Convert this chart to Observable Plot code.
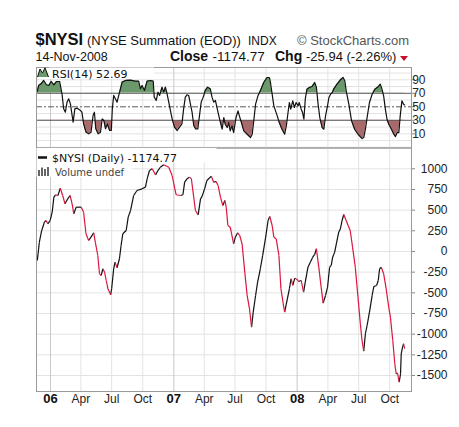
<!DOCTYPE html>
<html><head><meta charset="utf-8">
<script src="https://cdn.jsdelivr.net/npm/d3@7"></script>
<script src="https://cdn.jsdelivr.net/npm/@observablehq/plot@0.6"></script>
<style>
html,body{margin:0;padding:0;background:#fff;}
#wrap{position:relative;width:459px;height:427px;overflow:hidden;background:#fff;}
#wrap > svg{position:absolute;left:0;}
</style></head><body><div id="wrap"></div>
<script>
// ---- data: $NYSI daily (sampled at turning points) ----
const dates = ["2005-11-23","2005-11-29","2005-12-06","2005-12-14","2005-12-19","2005-12-24","2005-12-31","2006-01-06","2006-01-11","2006-01-16","2006-01-23","2006-01-30","2006-02-06","2006-02-13","2006-02-21","2006-02-28","2006-03-06","2006-03-11","2006-03-18","2006-04-02","2006-04-09","2006-04-16","2006-04-24","2006-05-01","2006-05-09","2006-05-14","2006-05-21","2006-05-26","2006-05-31","2006-06-05","2006-06-10","2006-06-15","2006-06-20","2006-06-28","2006-07-01","2006-07-07","2006-07-11","2006-07-17","2006-07-24","2006-07-29","2006-08-03","2006-08-13","2006-08-19","2006-08-26","2006-09-04","2006-09-14","2006-09-29","2006-10-09","2006-10-14","2006-10-21","2006-10-29","2006-11-08","2006-11-15","2006-11-22","2006-12-02","2006-12-17","2006-12-27","2007-01-04","2007-01-08","2007-01-21","2007-01-28","2007-02-02","2007-02-09","2007-02-16","2007-02-22","2007-02-27","2007-03-06","2007-03-14","2007-03-21","2007-03-26","2007-04-02","2007-04-09","2007-04-22","2007-04-29","2007-05-06","2007-05-12","2007-05-19","2007-05-26","2007-06-01","2007-06-05","2007-06-10","2007-06-17","2007-06-27","2007-07-02","2007-07-09","2007-07-15","2007-07-22","2007-07-30","2007-08-06","2007-08-13","2007-08-19","2007-08-24","2007-08-31","2007-09-06","2007-09-14","2007-09-21","2007-09-29","2007-10-07","2007-10-12","2007-10-19","2007-10-24","2007-10-31","2007-11-08","2007-11-14","2007-11-20","2007-11-25","2007-12-03","2007-12-09","2007-12-14","2007-12-19","2007-12-25","2008-01-01","2008-01-05","2008-01-13","2008-01-20","2008-01-25","2008-02-02","2008-02-09","2008-02-16","2008-02-22","2008-02-27","2008-03-05","2008-03-12","2008-03-18","2008-03-25","2008-03-31","2008-04-06","2008-04-11","2008-04-15","2008-04-21","2008-04-26","2008-05-03","2008-05-08","2008-05-13","2008-05-18","2008-05-25","2008-05-31","2008-06-06","2008-06-13","2008-06-21","2008-06-29","2008-07-06","2008-07-11","2008-07-16","2008-07-21","2008-07-26","2008-08-02","2008-08-10","2008-08-15","2008-08-23","2008-08-28","2008-09-01","2008-09-06","2008-09-13","2008-09-20","2008-09-28","2008-10-03","2008-10-10","2008-10-16","2008-10-20","2008-10-24","2008-10-29","2008-11-02","2008-11-04","2008-11-08","2008-11-11","2008-11-14"];
const nysi = [-109,112,254,355,375,335,375,475,657,685,677,765,677,577,637,677,577,456,536,536,475,214,133,173,226,105,-48,-270,-290,-209,-250,-351,-451,-524,-451,-209,-129,-197,-88,73,214,254,415,496,677,738,758,778,879,979,1000,927,979,1019,1050,1019,919,758,686,677,686,838,879,899,879,717,496,443,637,669,758,859,911,838,847,798,657,556,617,536,314,294,93,173,226,193,93,-250,-532,-693,-915,-733,-532,-371,-209,-48,153,375,423,314,173,153,-48,-451,-613,-733,-572,-451,-330,-411,-323,-338,-363,-351,-492,-371,-190,-129,-69,-36,33,-190,-431,-625,-532,-431,-190,-169,-69,-8,93,233,274,375,447,375,314,254,52,-190,-552,-874,-1076,-1205,-995,-895,-733,-532,-423,-411,-351,-209,-190,-270,-439,-673,-794,-1076,-1358,-1479,-1471,-1580,-1479,-1237,-1157,-1116,-1174.77];

// ---- data: RSI(14) ----
const rsiDates = ["2005-11-23","2005-11-27","2005-12-04","2005-12-12","2005-12-20","2005-12-27","2006-01-03","2006-01-11","2006-01-19","2006-01-28","2006-02-04","2006-02-09","2006-02-14","2006-02-19","2006-02-24","2006-03-01","2006-03-06","2006-03-09","2006-03-14","2006-03-21","2006-03-31","2006-04-04","2006-04-09","2006-04-16","2006-04-24","2006-05-01","2006-05-07","2006-05-11","2006-05-15","2006-05-22","2006-05-29","2006-06-03","2006-06-08","2006-06-13","2006-06-18","2006-06-25","2006-06-30","2006-07-03","2006-07-07","2006-07-12","2006-07-17","2006-07-22","2006-07-27","2006-08-01","2006-08-11","2006-08-26","2006-09-09","2006-09-19","2006-09-24","2006-09-29","2006-10-06","2006-10-14","2006-10-24","2006-11-01","2006-11-04","2006-11-10","2006-11-15","2006-11-20","2006-11-27","2006-12-02","2006-12-07","2006-12-12","2006-12-17","2006-12-22","2006-12-27","2007-01-03","2007-01-11","2007-01-18","2007-01-25","2007-01-30","2007-02-04","2007-02-09","2007-02-14","2007-02-19","2007-02-24","2007-03-01","2007-03-06","2007-03-13","2007-03-18","2007-03-23","2007-03-29","2007-04-04","2007-04-11","2007-04-19","2007-04-24","2007-04-29","2007-05-04","2007-05-12","2007-05-19","2007-05-24","2007-05-29","2007-06-02","2007-06-08","2007-06-12","2007-06-17","2007-06-22","2007-06-27","2007-07-04","2007-07-10","2007-07-14","2007-07-20","2007-07-27","2007-08-06","2007-08-16","2007-08-21","2007-08-25","2007-08-31","2007-09-07","2007-09-14","2007-09-24","2007-10-04","2007-10-11","2007-10-14","2007-10-19","2007-10-24","2007-11-03","2007-11-09","2007-11-17","2007-11-25","2007-11-30","2007-12-05","2007-12-09","2007-12-13","2007-12-19","2007-12-24","2007-12-29","2008-01-04","2008-01-07","2008-01-13","2008-01-17","2008-01-21","2008-01-25","2008-01-30","2008-02-06","2008-02-14","2008-02-22","2008-02-27","2008-03-03","2008-03-08","2008-03-15","2008-03-20","2008-03-25","2008-03-30","2008-04-04","2008-04-09","2008-04-14","2008-04-18","2008-04-28","2008-05-08","2008-05-16","2008-05-21","2008-05-26","2008-06-02","2008-06-10","2008-06-19","2008-06-29","2008-07-11","2008-07-16","2008-07-21","2008-07-26","2008-08-02","2008-08-10","2008-08-18","2008-08-25","2008-08-30","2008-09-03","2008-09-08","2008-09-13","2008-09-18","2008-09-23","2008-09-28","2008-10-06","2008-10-13","2008-10-18","2008-10-23","2008-10-28","2008-11-01","2008-11-06","2008-11-11","2008-11-14"];
const rsi = [72.7,81.6,84,89,82.6,81.6,87.5,82.6,87.5,87.5,69.3,47,42,56.9,61.8,54.4,37.1,27.3,47,48,44.5,42,24.8,12.4,10,12.4,37.1,42,17.4,10,12.4,32.2,29.7,17.4,24.8,14.9,14.9,47,66.8,61.8,56.9,66.8,76.7,86.5,89,89.5,88,88,76.7,81.6,74.2,88,89,88,64.3,59.4,71.7,66.8,79.1,71.7,79.1,69.3,56.9,44.5,32.2,19.9,14.9,19.9,24.8,47,64.3,67.8,66.8,54.4,42,22.3,17.4,17.4,37.1,56.9,64.3,74.2,79.1,76.7,64.3,56.9,59.4,41.5,26.7,16.8,34.1,24.2,19.3,26.7,14.4,21.8,11.9,34.1,44,36.6,26.7,14.4,9.4,4.5,9.4,26.7,53.9,66.2,73.6,86,93.4,93.4,86,68.7,51.4,36.6,26.7,16.8,9.4,21.8,41.5,56.4,46.5,58.8,49,56.4,51.4,56.4,46.5,41.5,31.6,61.3,76.1,78.5,80,86,78.5,53.9,34.1,19.3,16.8,36.6,49,63.8,68.7,71.2,76.1,83.5,90,93.4,88.5,71.2,53.9,29.2,16.8,9.4,3,4.5,16.8,34.1,56.4,68.7,76.1,78.5,81,83.5,76.1,66.2,46.5,31.6,24.2,16.8,9.4,5.9,11.9,11.9,36.6,58.8,53.9,52.69];

// ---- axes ----
const monthTicks = ["2006-01-01","2006-04-01","2006-07-01","2006-10-01","2007-01-01","2007-04-01","2007-07-01","2007-10-01","2008-01-01","2008-04-01","2008-07-01","2008-10-01"];
const monthLabels = ["06","Apr","Jul","Oct","07","Apr","Jul","Oct","08","Apr","Jul","Oct"];
const nysiTicks = [1000,750,500,250,0,-250,-500,-750,-1000,-1250,-1500];
const rsiTicks = [90,70,50,30,10];
const rsiGrid = [-10,0,10,20,40,60,80,90,100];
const rsiLevels = [70,30];
const rsiMid = [50];

// ---- layout ----
const W = 459;
const xDomain = [new Date(Date.UTC(2005,10,20,14)), new Date(Date.UTC(2008,11,4,10))];
const FONT = "'Liberation Sans', Arial, sans-serif";
const GRID = "#e3e3e3", YEARGRID = "#c9c9c9", BORDER = "#9a9a9a";
const UP = "#111", DOWN = "#dc163e";
const GREEN = "#6b996b", RED = "#a96a6b";

const parse = s => new Date(s + "T00:00:00Z");
const ticks = monthTicks.map((d,i) => ({date: parse(d), label: monthLabels[i], year: /^\d\d$/.test(monthLabels[i])}));
const yearTicks = ticks.filter(d => d.year), monTicks = ticks.filter(d => !d.year);
const pts = dates.map((d,i) => ({date: parse(d), v: nysi[i]}));
const segs = pts.slice(1).map((p,i) => ({x1: pts[i].date, y1: pts[i].v, x2: p.date, y2: p.v, up: p.v >= pts[i].v}));
const rpts = rsiDates.map((d,i) => ({date: parse(d), v: rsi[i]}));

const wrap = document.getElementById("wrap");

// RSI panel
const rsiPlot = Plot.plot({
  width: W, height: 95, marginLeft: 36, marginRight: 48, marginTop: 7, marginBottom: 7.5,
  x: {type: "utc", domain: xDomain, axis: null},
  y: {domain: [-11, 108.2], axis: "right", ticks: rsiTicks, tickSize: 3, tickFormat: () => "", label: null},
  style: {background: "transparent", fontFamily: FONT, color: "#888", overflow: "visible"},
  marks: [
    Plot.ruleY(rsiGrid, {stroke: GRID}),
    Plot.ruleX(monTicks, {x: "date", stroke: GRID}),
    Plot.ruleX(yearTicks, {x: "date", stroke: YEARGRID}),
    Plot.areaY(rpts, {x: "date", y1: 70, y2: "v", fill: GREEN, curve: "linear"}),
    Plot.areaY(rpts, {x: "date", y1: 30, y2: "v", fill: RED, curve: "linear"}),
    Plot.ruleY(rsiLevels, {stroke: "#5a5a5a", strokeWidth: 1}),
    Plot.ruleY(rsiMid, {stroke: "#5a5a5a", strokeWidth: 1, strokeDasharray: "6,2,2,2"}),
    Plot.line(rpts, {x: "date", y: "v", stroke: "#111", strokeWidth: 1.2}),
    Plot.frame({stroke: BORDER}),
    Plot.text(rsiTicks, {y: d => d, frameAnchor: "right", dx: 14, textAnchor: "end", text: d => String(d), fill: "#222", fontSize: 12})
  ]
});
rsiPlot.style.top = "60px";
// clip the filled zones to the overbought / oversold bands
(function(){
  const ns = "http://www.w3.org/2000/svg";
  const ys = rsiPlot.scale("y");
  const defs = document.createElementNS(ns, "defs");
  const mk = (id, y0, y1) => {
    const cp = document.createElementNS(ns, "clipPath"); cp.setAttribute("id", id);
    const r = document.createElementNS(ns, "rect");
    r.setAttribute("x", 0); r.setAttribute("width", W);
    r.setAttribute("y", y0); r.setAttribute("height", y1 - y0);
    cp.appendChild(r); defs.appendChild(cp);
  };
  mk("clipOB", 0, ys.apply(70));
  mk("clipOS", ys.apply(30), 95);
  rsiPlot.insertBefore(defs, rsiPlot.firstChild);
  const areas = rsiPlot.querySelectorAll('g[aria-label="area"]');
  if (areas[0]) areas[0].setAttribute("clip-path", "url(#clipOB)");
  if (areas[1]) areas[1].setAttribute("clip-path", "url(#clipOS)");
})();

// Main panel
const mainPlot = Plot.plot({
  width: W, height: 282, marginLeft: 36, marginRight: 48, marginTop: 2.5, marginBottom: 36,
  x: {type: "utc", domain: xDomain, axis: null},
  y: {domain: [-1693.5, 1251.6], axis: "right", ticks: nysiTicks, tickSize: 3, tickFormat: () => "", label: null},
  style: {background: "transparent", fontFamily: FONT, color: "#888", overflow: "visible"},
  marks: [
    Plot.ruleY(nysiTicks, {stroke: GRID}),
    Plot.ruleX(monTicks, {x: "date", stroke: GRID}),
    Plot.ruleX(yearTicks, {x: "date", stroke: YEARGRID}),
    Plot.link(segs.filter(d => d.up), {x1: "x1", y1: "y1", x2: "x2", y2: "y2", stroke: UP, strokeWidth: 1.2}),
    Plot.link(segs.filter(d => !d.up), {x1: "x1", y1: "y1", x2: "x2", y2: "y2", stroke: DOWN, strokeWidth: 1.2}),
    Plot.frame({stroke: BORDER}),
    Plot.text(nysiTicks, {y: d => d, frameAnchor: "right", dx: 36, textAnchor: "end", text: d => String(d), fill: "#222", fontSize: 12}),
    Plot.text(yearTicks, {x: "date", frameAnchor: "bottom", dy: 11, text: "label", fill: "#111", fontSize: 13, fontWeight: "bold"}),
    Plot.text(monTicks, {x: "date", frameAnchor: "bottom", dy: 11, text: "label", fill: "#222", fontSize: 12})
  ]
});
mainPlot.style.top = "145px";

wrap.appendChild(rsiPlot);
wrap.appendChild(mainPlot);

// header, legends (overlay)
const ov = `
<svg width="${W}" height="427" style="top:0;left:0;pointer-events:none" xmlns="http://www.w3.org/2000/svg">
  <g font-family="${FONT}" fill="#111">
    <text x="35.5" y="44.5" font-size="16.5" font-weight="bold">$NYSI</text>
    <text x="87" y="44.5" font-size="13">(NYSE Summation (EOD))</text>
    <text x="248" y="44.5" font-size="12">INDX</text>
    <text x="297" y="44.5" font-size="13" fill="#555">© StockCharts.com</text>
    <text x="35.5" y="61" font-size="12.5">14-Nov-2008</text>
    <text x="170" y="61" font-size="14" font-weight="bold">Close</text>
    <text x="212.5" y="61" font-size="13.5">-1174.77</text>
    <text x="275" y="61" font-size="14" font-weight="bold">Chg</text>
    <text x="306" y="61" font-size="13">-25.94 (-2.26%)</text>
    <path d="M400,56 L408,56 L404,61 Z" fill="#c8102e"/>
  </g>
  <rect x="49" y="67.5" width="105" height="11.5" fill="#fff"/>
  <path d="M37.5,77 L40,69 L42.5,73 L45,67.8 L48.5,77 Z" fill="${GREEN}"/>
  <path d="M37.5,77 L40,69 L42.5,73 L45,67.8 L48.5,77" fill="none" stroke="#111" stroke-width="1"/>
  <text x="52" y="77.5" font-family="'DejaVu Sans', Verdana, sans-serif" font-size="11" fill="#111">RSI(14) 52.69</text>
  <rect x="36.5" y="148" width="180" height="14" fill="#fff"/>
  <rect x="36.5" y="162" width="95" height="15" fill="#fff"/>
  <line x1="38" y1="157.5" x2="47" y2="157.5" stroke="#111" stroke-width="2.5"/>
  <text x="52" y="161.5" font-family="'DejaVu Sans', Verdana, sans-serif" font-size="11" fill="#111">$NYSI (Daily) -1174.77</text>
  <g fill="#666">
    <rect x="38" y="170" width="2" height="6"/><rect x="41" y="167.5" width="2" height="8.5"/><rect x="44" y="169" width="2" height="7"/><rect x="47" y="167" width="2" height="9"/>
  </g>
  <text x="55" y="175.5" font-family="'DejaVu Sans', Verdana, sans-serif" font-size="10" fill="#444">Volume undef</text>
</svg>`;
wrap.insertAdjacentHTML("beforeend", ov);
</script>
</body></html>
